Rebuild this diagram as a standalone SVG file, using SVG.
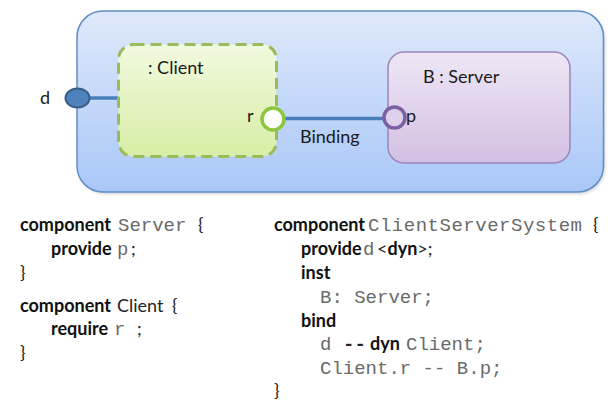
<svg xmlns="http://www.w3.org/2000/svg" width="611" height="401" viewBox="0 0 611 401">
  <defs>
    <linearGradient id="gOuter" x1="0" y1="0" x2="0" y2="1">
      <stop offset="0" stop-color="#dfe9fb"/>
      <stop offset="1" stop-color="#a9c7f7"/>
    </linearGradient>
    <linearGradient id="gClient" x1="0" y1="0" x2="0" y2="1">
      <stop offset="0" stop-color="#f1fadf"/>
      <stop offset="1" stop-color="#d8eda6"/>
    </linearGradient>
    <linearGradient id="gServer" x1="0" y1="0" x2="0" y2="1">
      <stop offset="0" stop-color="#eee7f5"/>
      <stop offset="1" stop-color="#d3c0e4"/>
    </linearGradient>
    <filter id="shadow" x="-5%" y="-5%" width="110%" height="115%">
      <feGaussianBlur stdDeviation="1.5"/>
    </filter>
  </defs>
  <style>
    .lbl { font-family: Lato, "Liberation Sans", sans-serif; font-size: 18px; fill: #1a1a1a; }
    .kw { font-family: Lato, "Liberation Sans", sans-serif; font-size: 18px; font-weight: bold; fill: #111; }
    .rg { font-family: Lato, "Liberation Sans", sans-serif; font-size: 18px; fill: #222; }
    .mono { font-family: "Liberation Mono", "Courier New", monospace; font-size: 19px; fill: #6a6a6a; }
    .monob { font-family: "Liberation Mono", "Courier New", monospace; font-size: 19px; font-weight: bold; fill: #222; }
    .wire { stroke: #4a7ebb; stroke-width: 3.5; fill: none; }
  </style>

  <g id="system">
    <rect x="79" y="13" width="526" height="181" rx="26" ry="26" fill="#000" opacity="0.18" filter="url(#shadow)"/>
    <rect x="77" y="11" width="526.5" height="181" rx="26" ry="26" fill="url(#gOuter)" stroke="#5f8dc7" stroke-width="1.5"/>
  </g>

  <g id="connectors">
    <line class="wire" x1="86" y1="98" x2="118" y2="98"/>
    <line id="binding" class="wire" x1="284" y1="118.5" x2="384" y2="118.5"/>
    <text class="lbl" x="300" y="143">Binding</text>
  </g>

  <g id="client">
    <rect x="118.5" y="44.5" width="158" height="112" rx="15" ry="15" fill="url(#gClient)" stroke="#9bbb59" stroke-width="3" stroke-dasharray="11 6"/>
    <text class="lbl" x="148" y="74">: Client</text>
  </g>

  <g id="server">
    <rect x="388" y="52" width="182" height="111" rx="16" ry="16" fill="url(#gServer)" stroke="#9c84bd" stroke-width="1.5"/>
    <text class="lbl" x="423" y="83">B : Server</text>
  </g>

  <g id="port-d">
    <ellipse cx="77.5" cy="98" rx="12" ry="9.5" fill="#4f81bd" stroke="#385d8a" stroke-width="2"/>
    <text class="lbl" x="40" y="104">d</text>
  </g>

  <g id="port-r">
    <circle cx="273" cy="119" r="11" fill="#ffffff" stroke="#8cc63f" stroke-width="3.5"/>
    <text class="lbl" x="247" y="122">r</text>
  </g>

  <g id="port-p">
    <circle cx="394.5" cy="117.5" r="10.5" fill="#ddd0ea" stroke="#7d5fa3" stroke-width="3.5"/>
    <text class="lbl" x="406" y="122">p</text>
  </g>

  <g id="code-left">
    <text y="231"><tspan class="kw" x="20">component</tspan><tspan class="mono" x="118">Server</tspan><tspan class="rg" x="198">{</tspan></text>
    <text y="255"><tspan class="kw" x="51">provide</tspan><tspan class="mono" x="117">p</tspan><tspan class="rg" x="131">;</tspan></text>
    <text class="rg" x="20" y="279">}</text>
    <text y="312"><tspan class="kw" x="20">component</tspan><tspan class="rg" x="117">Client</tspan><tspan class="rg" x="172">{</tspan></text>
    <text y="335"><tspan class="kw" x="51">require</tspan><tspan class="mono" x="114">r</tspan><tspan class="rg" x="137">;</tspan></text>
    <text class="rg" x="20" y="359">}</text>
  </g>

  <g id="code-right">
    <text y="231"><tspan class="kw" x="274">component</tspan><tspan class="mono" x="368" textLength="214" lengthAdjust="spacing">ClientServerSystem</tspan><tspan class="rg" x="593">{</tspan></text>
    <text y="255"><tspan class="kw" x="301">provide</tspan><tspan class="mono" x="363">d</tspan><tspan class="rg" x="377">&lt;</tspan><tspan class="kw">dyn</tspan><tspan class="rg">&gt;;</tspan></text>
    <text class="kw" x="301" y="279">inst</text>
    <text class="mono" x="320" y="303">B: Server;</text>
    <text class="kw" x="301" y="327">bind</text>
    <text y="350"><tspan class="mono" x="320">d</tspan><tspan class="monob" x="343">--</tspan><tspan class="kw" x="370">dyn</tspan><tspan class="mono" x="406">Client;</tspan></text>
    <text class="mono" x="320" y="374">Client.r -- B.p;</text>
    <text class="rg" x="274" y="397">}</text>
  </g>
</svg>
